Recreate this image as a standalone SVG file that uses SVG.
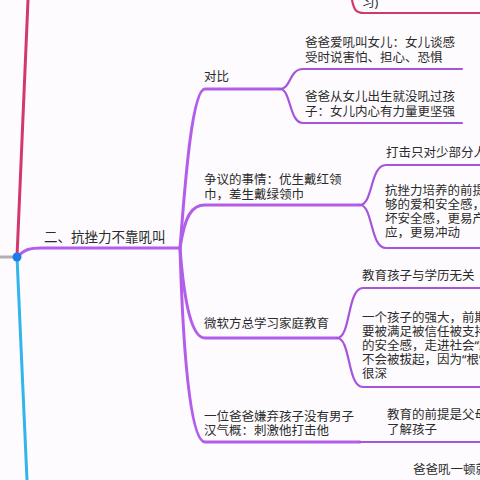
<svg xmlns="http://www.w3.org/2000/svg" width="480" height="480" viewBox="0 0 480 480">
<style>
text{font-family:"Noto Sans","Noto Sans CJK SC",sans-serif;font-size:12.5px;fill:#2b2b2b}
.main{fill:none;stroke:#b35ee9;stroke-width:3;stroke-linecap:round}
.sub{fill:none;stroke:#a455dc;stroke-width:2.2;stroke-linecap:round}
.big{font-size:13.5px}
</style>
<rect width="480" height="480" fill="#fdfbfd"/>
<g id="connectors">
<path d="M28,0 L17,257" fill="none" stroke="#d2386c" stroke-width="3"/>
<path d="M0,257 L14,257" fill="none" stroke="#b0b0b0" stroke-width="3"/>
<path d="M17,257 L27,480" fill="none" stroke="#31b5ec" stroke-width="3"/>
<path d="M352,0 C354,10 356,13 364,13 L480,13" fill="none" stroke="#d2386c" stroke-width="2.2"/>
<path class="main" d="M17,257 C25,249 30,248 42,248 L180,248"/>
<path class="main" d="M180,248 C184,200 191,89 205,89 L280,89"/>
<path class="main" d="M180,248 C185,215 192,205 205,205 L360,205"/>
<path class="main" d="M180,248 C184,300 191,338 205,338 L337,338"/>
<path class="main" d="M180,248 C183,350 190,442 205,442 L360,442"/>
<path class="sub" d="M280,89 C291,89 289,69 303,69 L462,69"/>
<path class="sub" d="M280,89 C291,89 289,123 303,123 L462,123"/>
<path class="sub" d="M360,205 C373,205 370,165 386,165 L482,165"/>
<path class="sub" d="M360,205 C373,205 370,248 386,248 L482,248"/>
<path class="sub" d="M337,338 C351,338 347,288 363,288 L482,288"/>
<path class="sub" d="M337,338 C351,338 347,387 363,387 L482,387"/>
<path class="sub" d="M360,442 L482,442"/>
</g>
<g id="root-dot"><circle cx="17" cy="257" r="4.5" fill="#1f7be8"/></g>
<g id="top-box"><text x="362" y="7">习)</text></g>
<g id="n-main"><text class="big" x="44" y="242">二、抗挫力不靠吼叫</text></g>
<g id="n-duibi"><text x="204" y="81">对比</text></g>
<g id="n-duibi-1"><text x="305" y="47">爸爸爱吼叫女儿：女儿谈感</text><text x="305" y="62">受时说害怕、担心、恐惧</text></g>
<g id="n-duibi-2"><text x="305" y="101">爸爸从女儿出生就没吼过孩</text><text x="305" y="116">子：女儿内心有力量更坚强</text></g>
<g id="n-zhengyi"><text x="204" y="184">争议的事情：优生戴红领</text><text x="204" y="199">巾，差生戴绿领巾</text></g>
<g id="n-zhengyi-1"><text x="386" y="157">打击只对少部分人</text></g>
<g id="n-zhengyi-2"><text x="385" y="195">抗挫力培养的前提</text><text x="385" y="209">够的爱和安全感，</text><text x="385" y="223">坏安全感，更易产</text><text x="385" y="237">应，更易冲动</text></g>
<g id="n-weiruan"><text x="204" y="328">微软方总学习家庭教育</text></g>
<g id="n-weiruan-1"><text x="362" y="280">教育孩子与学历无关</text></g>
<g id="n-weiruan-2"><text x="362" y="322">一个孩子的强大，前期</text><text x="362" y="336">要被满足被信任被支持</text><text x="362" y="350">的安全感，走进社会“跟</text><text x="362" y="364">不会被拔起，因为“根”扎</text><text x="362" y="378">很深</text></g>
<g id="n-yiwei"><text x="204" y="421">一位爸爸嫌弃孩子没有男子</text><text x="204" y="435">汉气概：刺激他打击他</text></g>
<g id="n-yiwei-1"><text x="387" y="419">教育的前提是父母</text><text x="387" y="434">了解孩子</text></g>
<g id="n-yiwei-2"><text x="413" y="474">爸爸吼一顿就</text></g>
</svg>
